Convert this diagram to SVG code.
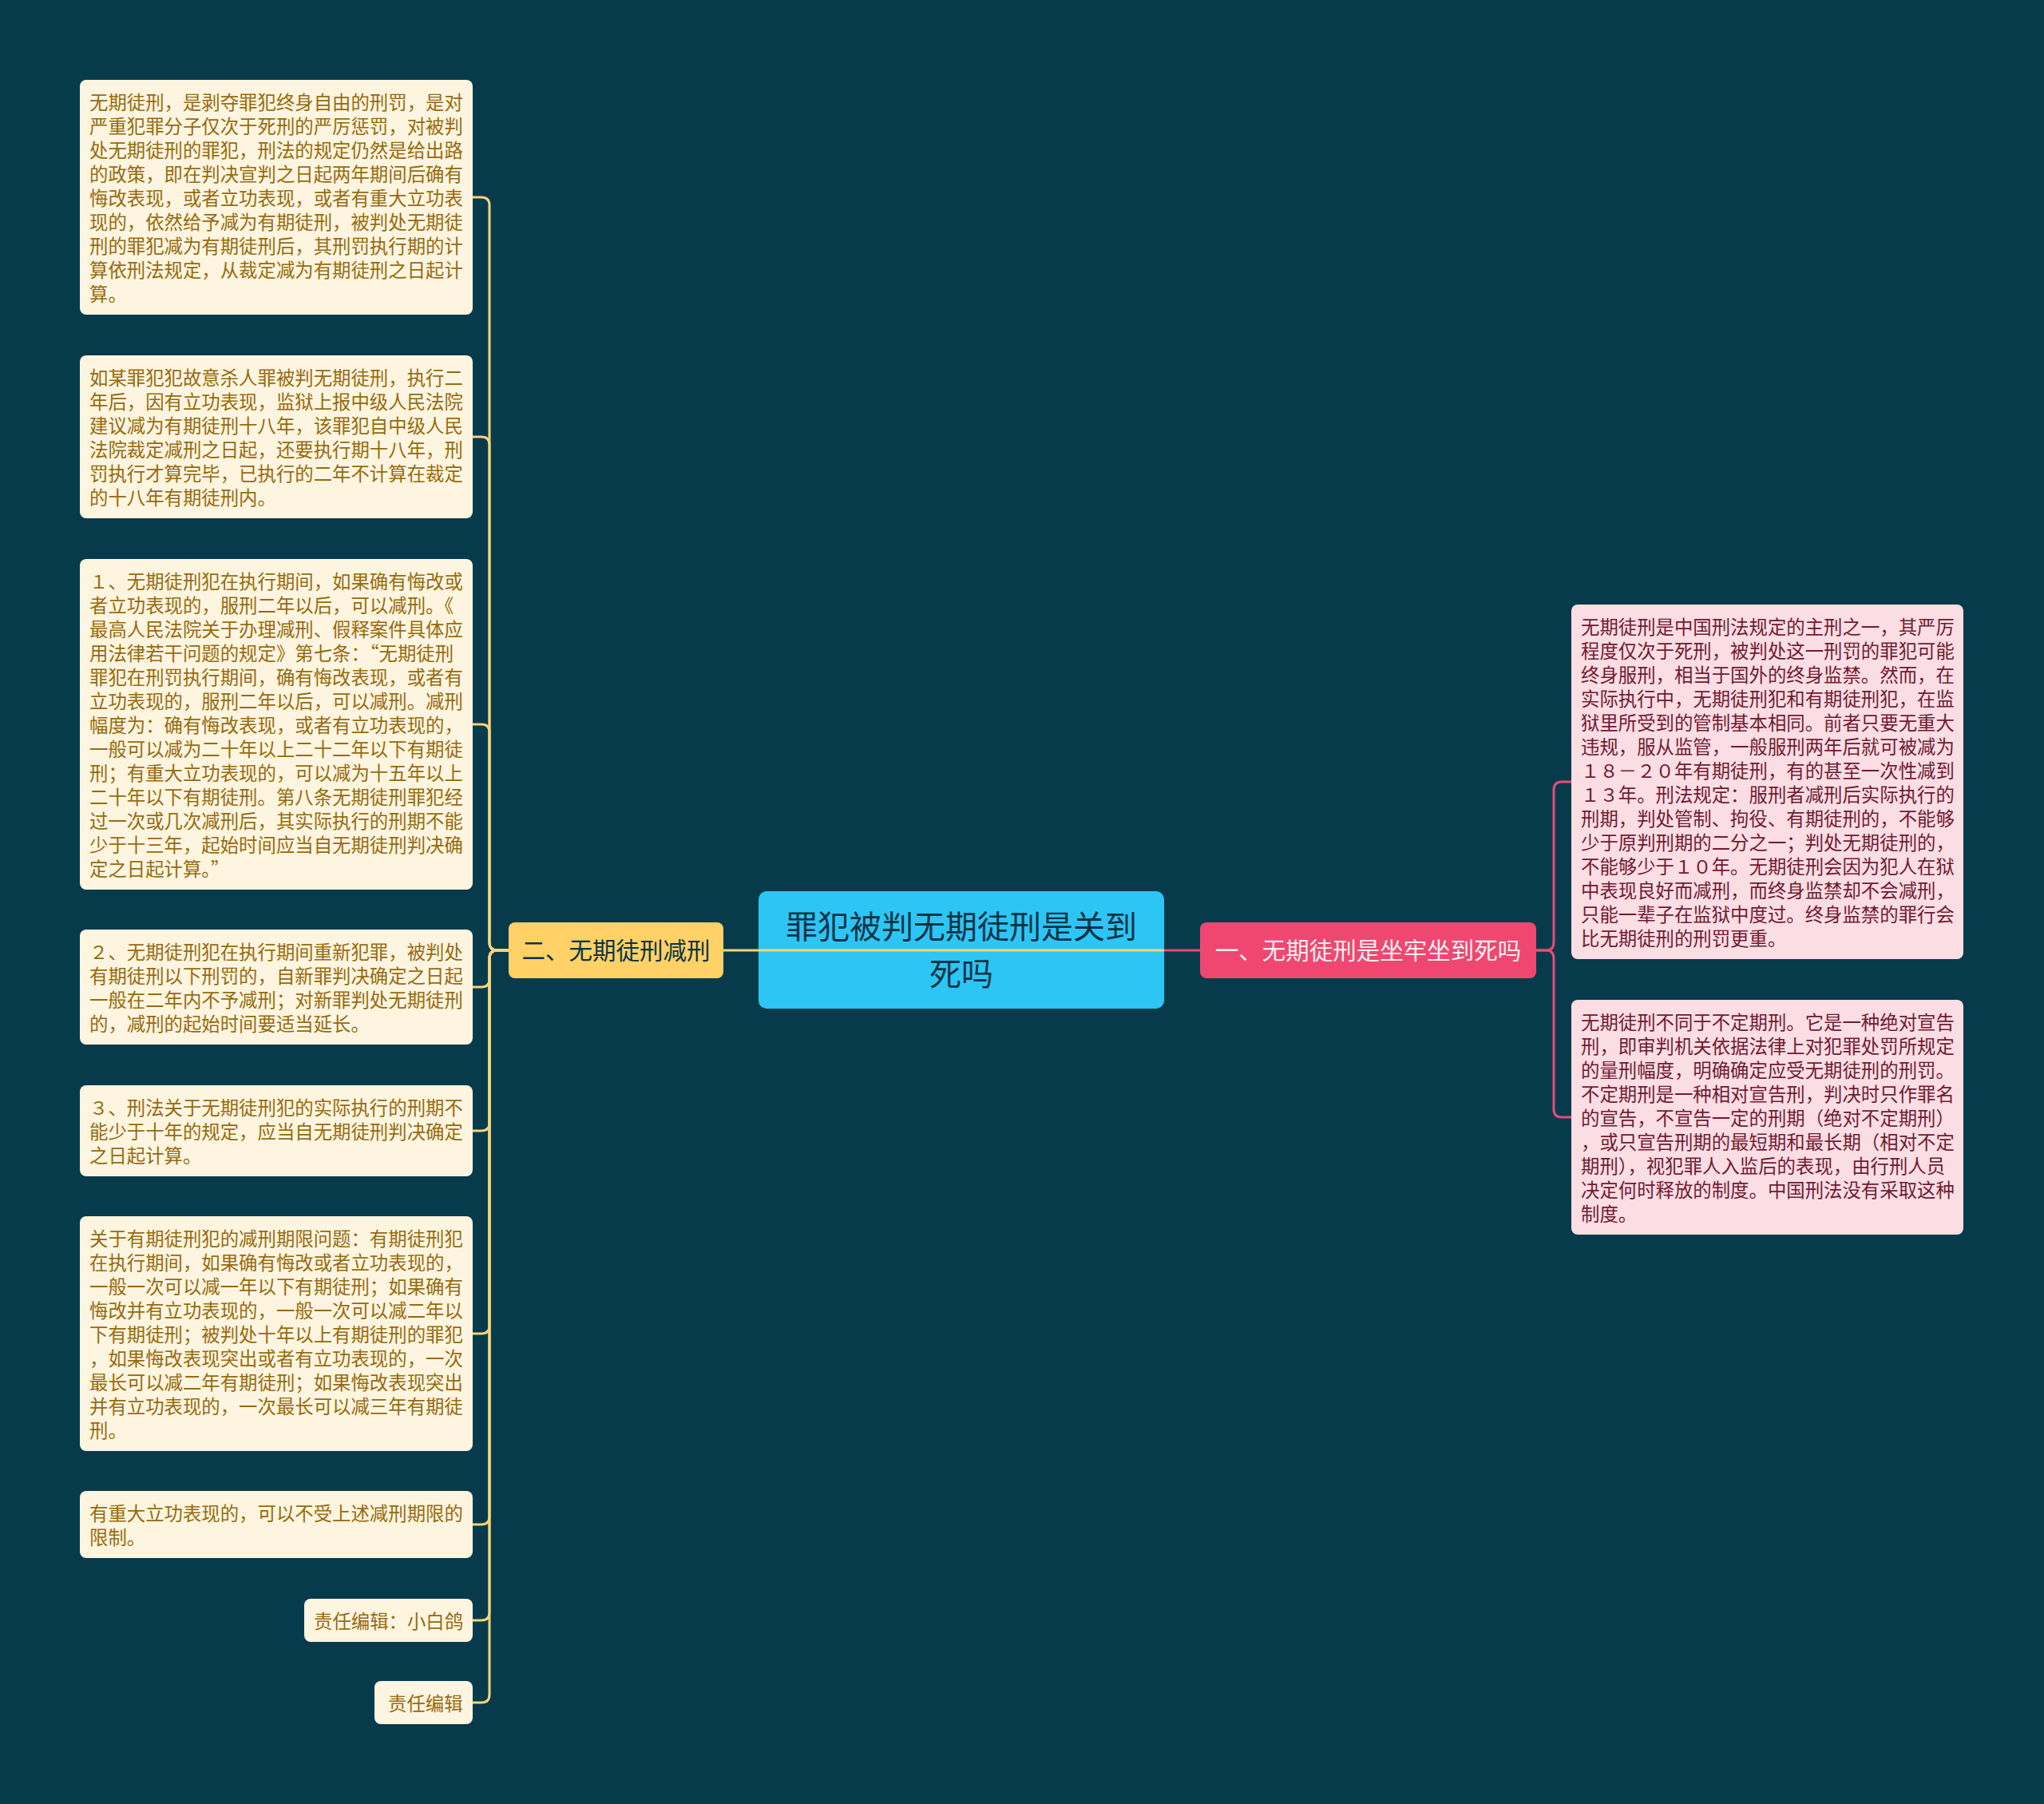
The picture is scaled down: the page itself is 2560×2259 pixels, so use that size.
<svg xmlns="http://www.w3.org/2000/svg" width="2560" height="2259" viewBox="0 0 2560 2259">
<style>
text{font-family:"Noto Sans CJK SC","Noto Sans",sans-serif}
.leaf rect{fill:#fdf5df}
.leaf text{fill:#986a0f;font-size:23.4px}
.rleaf rect{fill:#fbdde4}
.rleaf text{fill:#721a30;font-size:23.4px}
.cy{stroke:#f6d47a;stroke-width:3;fill:none}
.cp{stroke:#e94b77;stroke-width:3;fill:none}
</style>
<rect width="2560" height="2259" fill="#073b4c"/>

<g id="center">
<rect x="950" y="1116" width="508" height="147" rx="10" fill="#2dc5f4"/>
<text font-size="40" fill="#0b3446" text-anchor="middle"><tspan x="1204" y="1175">罪犯被判无期徒刑是关到</tspan><tspan x="1204" y="1234">死吗</tspan></text>
</g>

<g id="branch-left">
<rect x="637" y="1155" width="269" height="70" rx="8" fill="#ffd166"/>
<text x="771.5" y="1201" font-size="29.5" fill="#0b3446" text-anchor="middle">二、无期徒刑减刑</text>
</g>

<g id="branch-right">
<rect x="1503" y="1155" width="421" height="70" rx="8" fill="#ef476f"/>
<text x="1713.5" y="1201" font-size="29.5" fill="#fdeef2" text-anchor="middle">一、无期徒刑是坐牢坐到死吗</text>
</g>

<g id="leaf1" class="leaf">
<rect x="100" y="100" width="492" height="294" rx="8"/>
<text x="112"><tspan x="112" y="137">无期徒刑，是剥夺罪犯终身自由的刑罚，是对</tspan><tspan x="112" y="167">严重犯罪分子仅次于死刑的严厉惩罚，对被判</tspan><tspan x="112" y="197">处无期徒刑的罪犯，刑法的规定仍然是给出路</tspan><tspan x="112" y="227">的政策，即在判决宣判之日起两年期间后确有</tspan><tspan x="112" y="257">悔改表现，或者立功表现，或者有重大立功表</tspan><tspan x="112" y="287">现的，依然给予减为有期徒刑，被判处无期徒</tspan><tspan x="112" y="317">刑的罪犯减为有期徒刑后，其刑罚执行期的计</tspan><tspan x="112" y="347">算依刑法规定，从裁定减为有期徒刑之日起计</tspan><tspan x="112" y="377">算。</tspan></text>
</g>

<g id="leaf2" class="leaf">
<rect x="100" y="445" width="492" height="204" rx="8"/>
<text x="112"><tspan x="112" y="482">如某罪犯犯故意杀人罪被判无期徒刑，执行二</tspan><tspan x="112" y="512">年后，因有立功表现，监狱上报中级人民法院</tspan><tspan x="112" y="542">建议减为有期徒刑十八年，该罪犯自中级人民</tspan><tspan x="112" y="572">法院裁定减刑之日起，还要执行期十八年，刑</tspan><tspan x="112" y="602">罚执行才算完毕，已执行的二年不计算在裁定</tspan><tspan x="112" y="632">的十八年有期徒刑内。</tspan></text>
</g>

<g id="leaf3" class="leaf">
<rect x="100" y="700" width="492" height="414" rx="8"/>
<text x="112"><tspan x="112" y="737">１、无期徒刑犯在执行期间，如果确有悔改或</tspan><tspan x="112" y="767">者立功表现的，服刑二年以后，可以减刑。《</tspan><tspan x="112" y="797">最高人民法院关于办理减刑、假释案件具体应</tspan><tspan x="112" y="827">用法律若干问题的规定》第七条：“无期徒刑</tspan><tspan x="112" y="857">罪犯在刑罚执行期间，确有悔改表现，或者有</tspan><tspan x="112" y="887">立功表现的，服刑二年以后，可以减刑。减刑</tspan><tspan x="112" y="917">幅度为：确有悔改表现，或者有立功表现的，</tspan><tspan x="112" y="947">一般可以减为二十年以上二十二年以下有期徒</tspan><tspan x="112" y="977">刑；有重大立功表现的，可以减为十五年以上</tspan><tspan x="112" y="1007">二十年以下有期徒刑。第八条无期徒刑罪犯经</tspan><tspan x="112" y="1037">过一次或几次减刑后，其实际执行的刑期不能</tspan><tspan x="112" y="1067">少于十三年，起始时间应当自无期徒刑判决确</tspan><tspan x="112" y="1097">定之日起计算。”</tspan></text>
</g>

<g id="leaf4" class="leaf">
<rect x="100" y="1164" width="492" height="144" rx="8"/>
<text x="112"><tspan x="112" y="1201">２、无期徒刑犯在执行期间重新犯罪，被判处</tspan><tspan x="112" y="1231">有期徒刑以下刑罚的，自新罪判决确定之日起</tspan><tspan x="112" y="1261">一般在二年内不予减刑；对新罪判处无期徒刑</tspan><tspan x="112" y="1291">的，减刑的起始时间要适当延长。</tspan></text>
</g>

<g id="leaf5" class="leaf">
<rect x="100" y="1359" width="492" height="114" rx="8"/>
<text x="112"><tspan x="112" y="1396">３、刑法关于无期徒刑犯的实际执行的刑期不</tspan><tspan x="112" y="1426">能少于十年的规定，应当自无期徒刑判决确定</tspan><tspan x="112" y="1456">之日起计算。</tspan></text>
</g>

<g id="leaf6" class="leaf">
<rect x="100" y="1523" width="492" height="294" rx="8"/>
<text x="112"><tspan x="112" y="1560">关于有期徒刑犯的减刑期限问题：有期徒刑犯</tspan><tspan x="112" y="1590">在执行期间，如果确有悔改或者立功表现的，</tspan><tspan x="112" y="1620">一般一次可以减一年以下有期徒刑；如果确有</tspan><tspan x="112" y="1650">悔改并有立功表现的，一般一次可以减二年以</tspan><tspan x="112" y="1680">下有期徒刑；被判处十年以上有期徒刑的罪犯</tspan><tspan x="112" y="1710">，如果悔改表现突出或者有立功表现的，一次</tspan><tspan x="112" y="1740">最长可以减二年有期徒刑；如果悔改表现突出</tspan><tspan x="112" y="1770">并有立功表现的，一次最长可以减三年有期徒</tspan><tspan x="112" y="1800">刑。</tspan></text>
</g>

<g id="leaf7" class="leaf">
<rect x="100" y="1867" width="492" height="84" rx="8"/>
<text x="112"><tspan x="112" y="1904">有重大立功表现的，可以不受上述减刑期限的</tspan><tspan x="112" y="1934">限制。</tspan></text>
</g>

<g id="leaf8" class="leaf">
<rect x="381" y="2002" width="211" height="54" rx="8"/>
<text x="393" y="2039">责任编辑：小白鸽</text>
</g>

<g id="leaf9" class="leaf">
<rect x="469" y="2105" width="123" height="54" rx="8"/>
<text x="486" y="2142">责任编辑</text>
</g>

<g id="rleaf1" class="rleaf">
<rect x="1968" y="757" width="491" height="444" rx="8"/>
<text x="1980"><tspan x="1980" y="794">无期徒刑是中国刑法规定的主刑之一，其严厉</tspan><tspan x="1980" y="824">程度仅次于死刑，被判处这一刑罚的罪犯可能</tspan><tspan x="1980" y="854">终身服刑，相当于国外的终身监禁。然而，在</tspan><tspan x="1980" y="884">实际执行中，无期徒刑犯和有期徒刑犯，在监</tspan><tspan x="1980" y="914">狱里所受到的管制基本相同。前者只要无重大</tspan><tspan x="1980" y="944">违规，服从监管，一般服刑两年后就可被减为</tspan><tspan x="1980" y="974">１８－２０年有期徒刑，有的甚至一次性减到</tspan><tspan x="1980" y="1004">１３年。刑法规定：服刑者减刑后实际执行的</tspan><tspan x="1980" y="1034">刑期，判处管制、拘役、有期徒刑的，不能够</tspan><tspan x="1980" y="1064">少于原判刑期的二分之一；判处无期徒刑的，</tspan><tspan x="1980" y="1094">不能够少于１０年。无期徒刑会因为犯人在狱</tspan><tspan x="1980" y="1124">中表现良好而减刑，而终身监禁却不会减刑，</tspan><tspan x="1980" y="1154">只能一辈子在监狱中度过。终身监禁的罪行会</tspan><tspan x="1980" y="1184">比无期徒刑的刑罚更重。</tspan></text>
</g>

<g id="rleaf2" class="rleaf">
<rect x="1968" y="1252" width="491" height="294" rx="8"/>
<text x="1980"><tspan x="1980" y="1289">无期徒刑不同于不定期刑。它是一种绝对宣告</tspan><tspan x="1980" y="1319">刑，即审判机关依据法律上对犯罪处罚所规定</tspan><tspan x="1980" y="1349">的量刑幅度，明确确定应受无期徒刑的刑罚。</tspan><tspan x="1980" y="1379">不定期刑是一种相对宣告刑，判决时只作罪名</tspan><tspan x="1980" y="1409">的宣告，不宣告一定的刑期（绝对不定期刑）</tspan><tspan x="1980" y="1439">，或只宣告刑期的最短期和最长期（相对不定</tspan><tspan x="1980" y="1469">期刑），视犯罪人入监后的表现，由行刑人员</tspan><tspan x="1980" y="1499">决定何时释放的制度。中国刑法没有采取这种</tspan><tspan x="1980" y="1529">制度。</tspan></text>
</g>

<g id="connectors">
<path class="cp" d="M1458,1190 H1503"/>
<path class="cy" d="M906,1190 H1458"/>
<path class="cy" d="M637,1190 H623 Q613,1190 613,1180 V257 Q613,247 603,247 H592"/>
<path class="cy" d="M637,1190 H623 Q613,1190 613,1180 V557 Q613,547 603,547 H592"/>
<path class="cy" d="M637,1190 H623 Q613,1190 613,1180 V917 Q613,907 603,907 H592"/>
<path class="cy" d="M637,1190 H623 Q613,1190 613,1200 V1226 Q613,1236 603,1236 H592"/>
<path class="cy" d="M637,1190 H623 Q613,1190 613,1200 V1406 Q613,1416 603,1416 H592"/>
<path class="cy" d="M637,1190 H623 Q613,1190 613,1200 V1660 Q613,1670 603,1670 H592"/>
<path class="cy" d="M637,1190 H623 Q613,1190 613,1200 V1899 Q613,1909 603,1909 H592"/>
<path class="cy" d="M637,1190 H623 Q613,1190 613,1200 V2019 Q613,2029 603,2029 H592"/>
<path class="cy" d="M637,1190 H623 Q613,1190 613,1200 V2122 Q613,2132 603,2132 H592"/>
<path class="cp" d="M1924,1190 H1936 Q1946,1190 1946,1180 V989 Q1946,979 1956,979 H1968"/>
<path class="cp" d="M1924,1190 H1936 Q1946,1190 1946,1200 V1389 Q1946,1399 1956,1399 H1968"/>
</g>
</svg>
